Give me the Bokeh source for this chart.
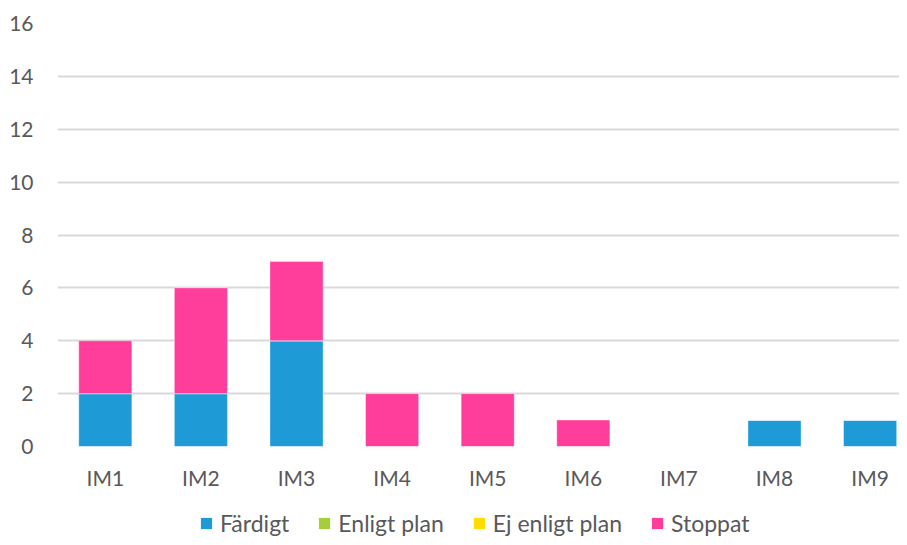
from bokeh.plotting import figure
from bokeh.layouts import column
from bokeh.models import Legend, LegendItem, FixedTicker, ColumnDataSource
from bokeh.embed import file_html
from bokeh.resources import INLINE

categories = ["IM1", "IM2", "IM3", "IM4", "IM5", "IM6", "IM7", "IM8", "IM9"]
series_names = ["Färdigt", "Enligt plan", "Ej enligt plan", "Stoppat"]
fardigt = [2, 2, 4, 0, 0, 0, 0, 1, 1]
enligt_plan = [0, 0, 0, 0, 0, 0, 0, 0, 0]
ej_enligt_plan = [0, 0, 0, 0, 0, 0, 0, 0, 0]
stoppat = [2, 4, 3, 2, 2, 1, 0, 0, 0]
colors = ["#1E9BD7", "#A5CF3A", "#FFDD00", "#FF3E9B"]
y_ticks = [0, 2, 4, 6, 8, 10, 12, 14, 16]

FONT = "Lato"
TXT = "#595959"

x = list(range(1, len(categories) + 1))
src = ColumnDataSource(dict(x=x, fardigt=fardigt, enligt=enligt_plan,
                            ej=ej_enligt_plan, stoppat=stoppat))

W = 899
H1, H2 = 495, 42
p = figure(width=W, height=H1, output_backend="svg", toolbar_location=None,
           x_range=(0.5, 0.5 + (W - 57) / 95.6), y_range=(0, 16),
           min_border_left=57, min_border_right=0, min_border_top=23,
           min_border_bottom=H1 - 446)
p.outline_line_color = None

renderers = p.vbar_stack(["fardigt", "enligt", "ej", "stoppat"], x="x", width=0.555,
                         source=src, color=colors, line_color="white", line_alpha=0.35,
                         line_width=1)

p.xaxis.ticker = FixedTicker(ticks=x)
p.xaxis.major_label_overrides = {i: c for i, c in zip(x, categories)}
p.yaxis.ticker = FixedTicker(ticks=y_ticks)
for ax in (p.xaxis[0], p.yaxis[0]):
    ax.axis_line_color = None
    ax.major_tick_line_color = None
    ax.minor_tick_line_color = None
    ax.major_tick_in = 0
    ax.major_tick_out = 0
    ax.major_label_text_font = FONT
    ax.major_label_text_font_size = "21px"
    ax.major_label_text_color = TXT
p.xaxis.major_label_standoff = 18
p.yaxis.major_label_standoff = 24

p.xgrid.grid_line_color = None
p.ygrid.grid_line_color = "#D9D9D9"
p.ygrid.grid_line_width = 2

# legend strip below the chart (zero-height swatch bars only feed the legend)
q = figure(width=W, height=H2, output_backend="svg", toolbar_location=None,
           x_range=(0, 1), y_range=(0, 1), min_border=0,
           min_border_left=57, min_border_right=0)
q.outline_line_color = None
q.axis.visible = False
q.grid.visible = False
swatches = [q.vbar(x=[0], top=[0], bottom=[0], width=0, fill_color=c, line_color=None)
            for c in colors]
legend = Legend(items=[LegendItem(label=n, renderers=[r]) for n, r in zip(series_names, swatches)],
                orientation="horizontal", location=(199 - 57, 0),
                glyph_width=14, glyph_height=14, label_standoff=7, spacing=28,
                padding=0, margin=0, border_line_color=None, background_fill_alpha=0,
                label_text_font=FONT, label_text_font_size="23px", label_text_color=TXT)
q.add_layout(legend, "center")

layout = column(p, q, spacing=0)
open("out.html", "w").write(file_html(layout, INLINE))
